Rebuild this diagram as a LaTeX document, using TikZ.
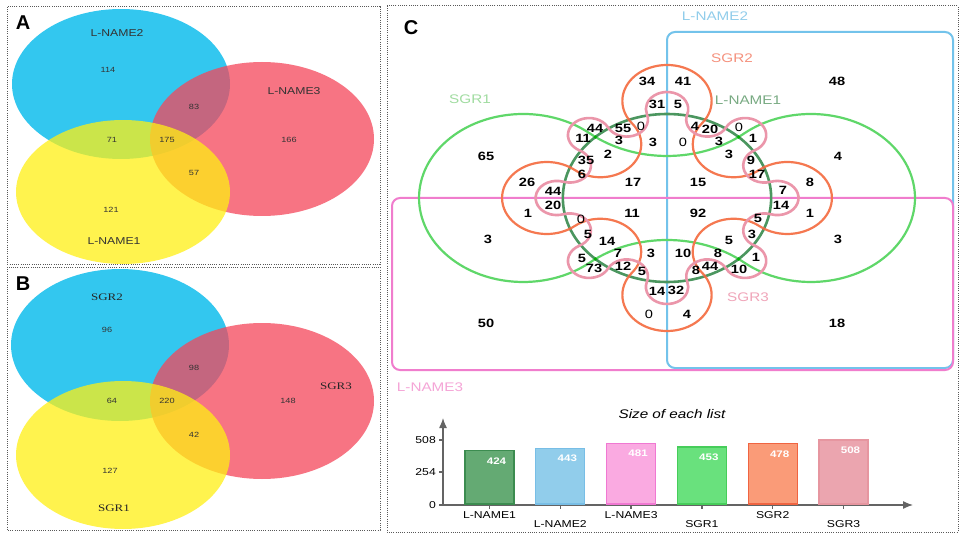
\documentclass[tikz,border=0pt]{standalone}
\usepackage{fontspec}
\usetikzlibrary{arrows.meta}
\newfontfamily\wsans[FakeStretch=1.22]{Liberation Sans}
\newfontfamily\wserif[FakeStretch=1.3]{Liberation Serif}
\newfontfamily\psans{Liberation Sans}

\definecolor{vblue}{RGB}{0,185,235}
\definecolor{vred}{RGB}{245,70,90}
\definecolor{vyellow}{RGB}{255,240,20}
\definecolor{lnone}{RGB}{75,150,95}
\definecolor{lntwo}{RGB}{115,195,235}
\definecolor{lnthree}{RGB}{240,125,205}
\definecolor{sgone}{RGB}{95,215,105}
\definecolor{sgtwo}{RGB}{245,120,80}
\definecolor{sgthree}{RGB}{235,150,170}
\definecolor{tlnone}{RGB}{120,170,130}
\definecolor{tlntwo}{RGB}{145,205,235}
\definecolor{tlnthree}{RGB}{245,165,215}
\definecolor{tsgone}{RGB}{160,220,160}
\definecolor{tsgtwo}{RGB}{245,145,125}
\definecolor{tsgthree}{RGB}{240,165,185}
\definecolor{axisgray}{RGB}{100,100,100}

\tikzset{
  panelbox/.style={dash pattern=on 1pt off 1.2pt, line width=1pt, black!65},
  panel/.style={font=\psans\bfseries\fontsize{20}{20}\selectfont, inner sep=0pt},
  anum/.style={font=\wsans\fontsize{7.5}{8}\selectfont, text=black!80, inner sep=0pt},
  alab/.style={font=\wsans\fontsize{10}{10}\selectfont, text=black!80, inner sep=0pt},
  blab/.style={font=\wserif\fontsize{10}{10}\selectfont, text=black!85, inner sep=0pt},
  cnum/.style={font=\wsans\bfseries\fontsize{12}{12}\selectfont, inner sep=0pt},
  czero/.style={font=\wsans\fontsize{12}{12}\selectfont, inner sep=0pt},
  clab/.style={font=\wsans\fontsize{12.5}{13}\selectfont, inner sep=0pt},
  setline/.style={line width=2.2pt},
  axisline/.style={axisgray, line width=1.3pt},
  barlab/.style={font=\wsans\fontsize{10}{10}\selectfont, inner sep=0pt},
  vallab/.style={font=\wsans\bfseries\fontsize{9.5}{10}\selectfont, text=white, inner sep=0pt},
}

\begin{document}
\begin{tikzpicture}[x=1pt, y=-1pt]
\useasboundingbox (0,0) rectangle (969,540);
\fill[white] (0,0) rectangle (969,540);

% A
\fill[vblue, fill opacity=0.8] (121,84) ellipse[x radius=109, y radius=75];
\fill[vred, fill opacity=0.75] (262,139) ellipse[x radius=112, y radius=77];
\fill[vyellow, fill opacity=0.75] (123,192) ellipse[x radius=107, y radius=72];
\draw[panelbox] (7,7) rectangle (380,264);
\node[panel] (pa) at (23,23) {A};
\node[alab] (a1) at (117,33) {L-NAME2};
\node[alab] (a2) at (294,91) {L-NAME3};
\node[alab] (a3) at (114,241) {L-NAME1};
\foreach \x/\y/\t [count=\i] in {108/70/114, 194/107/83, 112/140/71, 167/140/175,
    289/140/166, 194/173/57, 111/210/121}
  \node[anum] (an\i) at (\x,\y) {\t};

% B
\fill[vblue, fill opacity=0.8] (120,345) ellipse[x radius=109, y radius=76];
\fill[vred, fill opacity=0.75] (262,401) ellipse[x radius=112, y radius=78];
\fill[vyellow, fill opacity=0.75] (123,455) ellipse[x radius=107, y radius=74];
\draw[panelbox] (7,267) rectangle (380,530);
\node[panel] (pb) at (23,284) {B};
\node[blab] (b1) at (107,297) {SGR2};
\node[blab] (b2) at (336,386) {SGR3};
\node[blab] (b3) at (114,508) {SGR1};
\foreach \x/\y/\t [count=\i] in {107/330/96, 194/368/98, 112/401/64, 167/401/220,
    288/401/148, 194/435/42, 110/471/127}
  \node[anum] (bn\i) at (\x,\y) {\t};

% C
\draw[panelbox] (387,6) rectangle (958,532);
\node[panel] (pc) at (411,28) {C};
\draw[lntwo, line width=2pt, rounded corners=8pt] (667,32) rectangle (953,368);
\draw[lnthree, line width=2pt, rounded corners=8pt] (392,198) rectangle (953,370);

\begin{scope}[shift={(667,198)}, x=1.24pt, y=1pt]
  \draw[sgone, setline] (62.22,-64.52) arc[start angle=-129.8, end angle=129.8, radius=84]
    arc[start angle=-50.2, end angle=-129.8, radius=97.2]
    arc[start angle=50.2, end angle=309.8, radius=84]
    arc[start angle=129.8, end angle=50.2, radius=97.2] -- cycle;
  \draw[lnone, line width=2.6pt] (0,0) circle[radius=84];
  \draw[sgtwo, setline] (74.43,-28.04) \foreach \k in {0,90,180,270} {
      arc[start angle=\k-128.83, end angle=\k+128.83, radius=36]
      arc[start angle=\k+308.83, end angle=\k+141.17, radius=33]} -- cycle;
  \draw[sgthree, line width=2.6pt] (83.77,-16.25) \foreach \k in {0,45,...,315} {
      arc[start angle=\k-107.84, end angle=\k+107.84, radius=17.075]
      arc[start angle=\k+287.84, end angle=\k+117.16, radius=17.075]} -- cycle;
  \foreach \sx/\sy in {1/1, -1/1, 1/-1, -1/-1}
    \fill[green!70!black] (\sx*57.75,\sy*61) circle[radius=1.8pt];
  \foreach \a in {21.4, 68.6, 111.4, 158.6, 201.4, 248.6, 291.4, 338.6}
    \fill[sgtwo!90!black] (\a:84) circle[radius=1.6pt];
\end{scope}

\node[clab, text=tsgone] (s1) at (470,99) {SGR1};
\node[clab, text=tlntwo] (l2) at (715,16) {L-NAME2};
\node[clab, text=tsgtwo] (s2) at (732,58) {SGR2};
\node[clab, text=tlnone] (l1) at (748,100) {L-NAME1};
\node[clab, text=tsgthree] (s3) at (748,297) {SGR3};
\node[clab, text=tlnthree] (l3) at (430,387) {L-NAME3};

\foreach \x/\y/\t [count=\i] in {647/81/34, 683/81/41, 837/81/48, 657/104/31, 678/104/5,
    595/128/44, 623/128/55, 583/138/11, 619/140/3, 653/142/3, 695/126/4, 710/129/20,
    719/141/3, 753/138/1, 729/154/3, 486/156/65, 608/154/2, 838/156/4, 751/160/9,
    586/160/35, 582/174/6, 757/174/17, 527/182/26, 633/182/17, 698/182/15, 810/182/8,
    783/190/7, 553/191/44, 553/205/20, 781/205/14, 528/213/1, 632/213/11, 698/213/92,
    810/213/1, 758/218/5, 588/234/5, 752/234/3, 488/239/3, 729/240/5, 838/239/3,
    607/241/14, 618/253/7, 651/253/3, 683/253/10, 718/253/8, 756/257/1, 582/258/5,
    594/268/73, 623/266/12, 642/271/5, 710/266/44, 696/270/8, 739/269/10, 657/291/14,
    676/290/32, 687/314/4, 486/323/50, 837/323/18}
  \node[cnum] (cn\i) at (\x,\y) {\t};
\foreach \x/\y [count=\i] in {641/126, 683/142, 739/127, 581/219, 649/314}
  \node[czero] (cz\i) at (\x,\y) {0};

% sizes
\node[font=\wsans\itshape\fontsize{12.5}{13}\selectfont, inner sep=0pt] (title) at (672,414) {Size of each list};
\coordinate (orig) at (443,505);
\coordinate (ytop) at (443,418);
\coordinate (xend) at (913,505);
\draw[axisline, -{Latex[length=10pt, width=8pt]}] (orig) -- (ytop);
\draw[axisline, -{Latex[length=10pt, width=8pt]}] (orig) -- (xend);
\foreach \y/\t [count=\i] in {440/508, 472/254, 505/0} {
  \draw[axisline] (439,\y) -- (443,\y);
  \node[barlab, anchor=east] (yt\i) at (436,\y) {\t};
}
\foreach \v/\nm/\f/\d [count=\i from 0] in {424/L-NAME1/{rgb,255:red,100;green,170;blue,115}/{rgb,255:red,60;green,140;blue,80},
    443/L-NAME2/{rgb,255:red,145;green,205;blue,235}/{rgb,255:red,120;green,190;blue,230},
    481/L-NAME3/{rgb,255:red,250;green,170;blue,225}/{rgb,255:red,240;green,120;blue,210},
    453/SGR1/{rgb,255:red,105;green,225;blue,125}/{rgb,255:red,70;green,205;blue,90},
    478/SGR2/{rgb,255:red,250;green,155;blue,120}/{rgb,255:red,240;green,100;blue,65},
    508/SGR3/{rgb,255:red,235;green,165;blue,175}/{rgb,255:red,230;green,150;blue,160}} {
  \pgfmathsetmacro\bx{465+70.8*\i}
  \pgfmathsetmacro\by{505-0.128*\v}
  \pgfmathsetmacro\ly{mod(\i,2)==0 ? 515 : 524}
  \draw[draw=\d, fill=\f, line width=1.2pt] (\bx,504) rectangle (\bx+49,\by);
  \node[vallab] (val\i) at (\bx+31.5,\by+10) {\v};
  \draw[axisline] (\bx+24.5,505) -- (\bx+24.5,509);
  \node[barlab] (lab\i) at (\bx+24.5,\ly) {\nm};
}
\end{tikzpicture}
\end{document}
